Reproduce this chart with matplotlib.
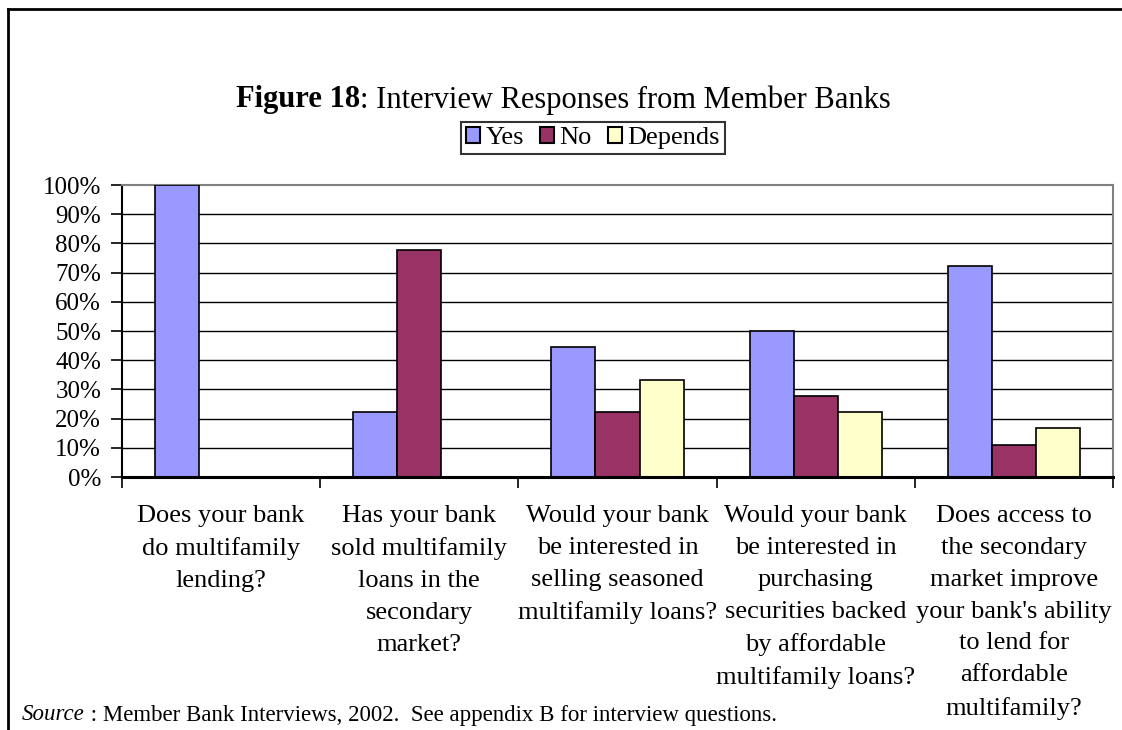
import matplotlib.pyplot as plt
import matplotlib.transforms as mtransforms
import numpy as np
from matplotlib.patches import Patch
from matplotlib.lines import Line2D

plt.rcParams["font.family"] = ["Liberation Serif", "DejaVu Serif"]

# data (share of 18 interviewed banks)
questions = [
    "Does your bank\ndo multifamily\nlending?",
    "Has your bank\nsold multifamily\nloans in the\nsecondary\nmarket?",
    "Would your bank\nbe interested in\nselling seasoned\nmultifamily loans?",
    "Would your bank\nbe interested in\npurchasing\nsecurities backed\nby affordable\nmultifamily loans?",
    "Does access to\nthe secondary\nmarket improve\nyour bank's ability\nto lend for\naffordable\nmultifamily?",
]
series_names = ["Yes", "No", "Depends"]
yes = [100.0, 22.2, 44.4, 50.0, 72.2]
no = [0.0, 77.8, 22.2, 27.8, 11.1]
depends = [0.0, 0.0, 33.3, 22.2, 16.7]
colors = ["#9999FF", "#993366", "#FFFFCC"]

W, H = 1122, 730
fig = plt.figure(figsize=(W / 100, H / 100), dpi=100)
ax = fig.add_axes([122 / W, 1 - 477 / H, (1113 - 122) / W, (477 - 185) / H])

x = np.arange(len(questions))
bw = 1 / 4.5
for i, vals in enumerate([yes, no, depends]):
    ax.bar(x + (i - 1) * bw, vals, width=bw, color=colors[i],
           edgecolor="black", linewidth=1.2, zorder=3)

ax.set_xlim(-0.5, len(questions) - 0.5)
ax.set_ylim(0, 100)
ax.set_yticks(np.arange(0, 101, 10))
ax.set_yticklabels([f"{v}%" for v in range(0, 101, 10)], fontsize=18)
ax.tick_params(axis="y", direction="out", length=8, width=1.2, pad=7)
for v in range(10, 100, 10):
    ax.axhline(v, color="black", linewidth=1, zorder=1)

ax.set_xticks(np.arange(-0.5, len(questions), 1))
ax.set_xticklabels([])
ax.tick_params(axis="x", direction="out", length=8, width=1.2)
lbl_tr = mtransforms.blended_transform_factory(ax.transData, fig.transFigure)
for xi, q in zip(x, questions):
    ax.text(xi, 1 - 505 / H, q, transform=lbl_tr, ha="center",
            va="top", fontsize=19, linespacing=1.58)

ax.spines["left"].set_linewidth(1.5)
ax.spines["bottom"].set_linewidth(2.2)
ax.spines["bottom"].set_zorder(5)
ax.spines["top"].set_color("#808080")
ax.spines["right"].set_color("#808080")
ax.spines["top"].set_linewidth(1.5)
ax.spines["right"].set_linewidth(1.5)

# legend
handles = [Patch(facecolor=c, edgecolor="black", linewidth=1.5) for c in colors]
leg = fig.legend(handles, series_names, loc="center", bbox_to_anchor=(593 / W, 1 - 138 / H),
                 ncol=3, fontsize=19, frameon=True, fancybox=False, handlelength=0.55,
                 handleheight=0.55, handletextpad=0.2, columnspacing=0.6,
                 borderpad=0.2, borderaxespad=0)
leg.get_frame().set_edgecolor("black")
leg.get_frame().set_linewidth(1.5)

# title: bold part + regular part, centered together
fig.canvas.draw()
r = fig.canvas.get_renderer()
ty = 1 - 100 / H
t1 = fig.text(0, ty, "Figure 18", fontsize=22, fontweight="bold", va="center")
t2 = fig.text(0, ty, ": Interview Responses from Member Banks", fontsize=22, va="center")
w1 = t1.get_window_extent(r).width / W
w2 = t2.get_window_extent(r).width / W
x0 = 563 / W - (w1 + w2) / 2
t1.set_x(x0)
t2.set_x(x0 + w1)

# source note
sy = 1 - 715 / H
s1 = fig.text(22 / W, sy, "Source", fontsize=16.5, style="italic", va="center")
ws = s1.get_window_extent(r).width / W
fig.text(22 / W + ws, sy, " : Member Bank Interviews, 2002.  See appendix B for interview questions.",
         fontsize=16.5, va="center")

# outer frame (left and top)
fig.add_artist(Line2D([8 / W, 8 / W], [0, 1 - 9 / H], color="black", linewidth=2,
                      transform=fig.transFigure))
fig.add_artist(Line2D([8 / W, 1], [1 - 9 / H, 1 - 9 / H], color="black", linewidth=2,
                      transform=fig.transFigure))

fig.savefig("out.png", dpi=100)
